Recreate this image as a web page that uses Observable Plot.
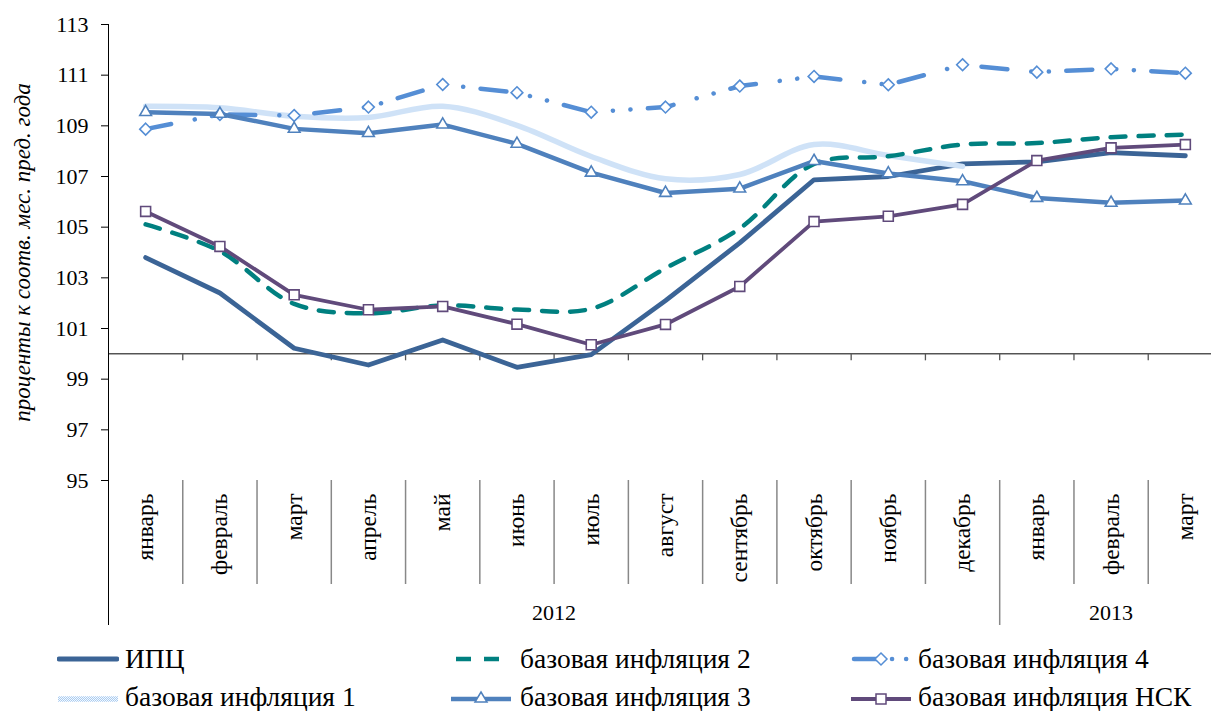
<!DOCTYPE html>
<html><head><meta charset="utf-8">
<script src="https://cdn.jsdelivr.net/npm/d3@7"></script>
<script src="https://cdn.jsdelivr.net/npm/@observablehq/plot@0.6"></script>
<style>
html,body{margin:0;padding:0;background:#fff;overflow:hidden;width:1211px;height:711px}
#wrap{position:relative;width:1211px;height:711px}
#legend{position:absolute;left:0;top:632px;width:1211px;height:79px;font-family:"Liberation Serif","Times New Roman",Times,"DejaVu Serif",serif;font-size:27.5px;color:#000}
.item{position:absolute;display:flex;align-items:center;height:30px;white-space:nowrap;line-height:30px}
.item svg{display:block;flex:none}
</style></head><body><div id="wrap"><div id="chart"></div><div id="legend"></div></div>
<script>
const months = ["январь","февраль","март","апрель","май","июнь","июль","август","сентябрь","октябрь","ноябрь","декабрь","январь","февраль","март"];
const years = ["2012","2013"];
const yearMonthCounts = [12, 3];
const yTicks = [95,97,99,101,103,105,107,109,111,113];
const yTitle = "проценты к соотв. мес. пред. года";

const cpi   = [103.80,102.40,100.22,99.56,100.55,99.47,99.97,102.10,104.38,106.87,107.00,107.50,107.58,107.94,107.82];
const core1 = [109.77,109.71,109.38,109.33,109.77,109.02,107.79,106.91,107.08,108.26,107.83,107.40,null,null,null];
const core2 = [105.11,104.05,101.97,101.60,101.91,101.75,101.78,103.38,104.95,107.50,107.80,108.26,108.32,108.55,108.65];
const core3 = [109.54,109.47,108.88,108.71,109.05,108.29,107.15,106.35,106.52,107.61,107.12,106.81,106.15,105.96,106.05];
const core4 = [108.87,109.45,109.41,109.74,110.63,110.31,109.54,109.74,110.57,110.95,110.62,111.41,111.12,111.25,111.08];
const nsk   = [105.62,104.24,102.33,101.74,101.87,101.17,100.36,101.16,102.66,105.22,105.43,105.90,107.63,108.13,108.26];

const labels = {cpi:"ИПЦ", core1:"базовая инфляция 1", core2:"базовая инфляция 2", core3:"базовая инфляция 3", core4:"базовая инфляция 4", nsk:"базовая инфляция НСК"};

const C = {cpi:"#3b6496", core1:"#9fc3ec", core2:"#008080", core3:"#4f81bd", core4:"#558ed5", nsk:"#604a7b"};
const dash2 = "15,13";
const dash4 = "26,24,0.1,17.5,0.1,17.4";

const X = (d,i) => i;
const Y = d => d;

const bounds = months.slice(0,-1).map((_, i) => i + 0.5);
let acc = 0;
const yearInfo = years.map((y, k) => { const start = acc; acc += yearMonthCounts[k]; return {label: y, start, end: acc}; });
const yearBounds = yearInfo.slice(0,-1).map(d => d.end - 0.5);
const monthBounds = bounds.filter(b => !yearBounds.includes(b));

const font = '"Liberation Serif", "Times New Roman", Times, "DejaVu Serif", serif';

const chart = Plot.plot({
  width: 1211,
  height: 632,
  marginLeft: 108, marginRight: 0, marginTop: 24, marginBottom: 152,
  style: {fontFamily: font, fontSize: "22px", background: "white", color: "black"},
  x: {type: "linear", domain: [-0.5, 14.5], range: [108, 1222], axis: null},
  y: {domain: [95, 113], range: [480, 24], axis: null},
  marks: [
    Plot.ruleX([-0.5], {x: d => d, y1: () => 113, y2: () => 95, insetBottom: -145, stroke: "#000", strokeWidth: 1}),
    Plot.ruleY(yTicks, {y: Y, x1: () => -0.5, x2: () => -0.5, insetLeft: -7, stroke: "#000", strokeWidth: 1}),
    Plot.text(yTicks, {x: () => -0.5, y: Y, text: d => String(d), textAnchor: "end", dx: -20, fontSize: 22, fontFamily: font}),
    Plot.text([yTitle], {x: () => -0.5, y: () => 104, dx: -86, rotate: -90, text: d => d, fontStyle: "italic", fontSize: 23, fontFamily: font}),
    Plot.ruleY([100], {y: Y, x1: () => -0.5, x2: () => 14.5, stroke: "#000", strokeWidth: 1}),
    Plot.ruleX(bounds, {x: d => d, y1: () => 100, y2: () => 100, insetBottom: -7, stroke: "#555", strokeWidth: 1.3}),
    Plot.ruleX(monthBounds, {x: d => d, y1: () => 95, y2: () => 95, insetBottom: -104, stroke: "#888", strokeWidth: 1.5}),
    Plot.ruleX(yearBounds, {x: d => d, y1: () => 95, y2: () => 95, insetBottom: -145, stroke: "#888", strokeWidth: 1.5}),
    Plot.text(months, {x: X, y: () => 95, text: d => d, rotate: -90, textAnchor: "end", dy: 13, fontSize: 23.5, fontFamily: font}),
    Plot.text(yearInfo, {x: d => (d.start + d.end - 1) / 2, y: () => 95, text: d => d.label, dy: 132, fontSize: 22, fontFamily: font}),
    Plot.line(cpi, {x: X, y: Y, stroke: C.cpi, strokeWidth: 4.8, strokeLinejoin: "round"}),
    Plot.line(core1, {x: X, y: Y, stroke: C.core1, strokeWidth: 5.5, curve: "catmull-rom"}),
    Plot.line(core2, {x: X, y: Y, stroke: C.core2, strokeWidth: 4.5, strokeDasharray: dash2, curve: "catmull-rom"}),
    Plot.line(core4, {x: X, y: Y, stroke: C.core4, strokeWidth: 4.5, strokeDasharray: dash4, strokeLinecap: "round"}),
    Plot.dot(core4, {x: X, y: Y, symbol: "diamond2", r: 5.3, fill: "white", stroke: C.core4, strokeWidth: 1.6}),
    Plot.line(core3, {x: X, y: Y, stroke: C.core3, strokeWidth: 4.5, strokeLinejoin: "round"}),
    Plot.dot(core3, {x: X, y: Y, symbol: "triangle2", r: 5.6, fill: "white", stroke: C.core3, strokeWidth: 1.6}),
    Plot.line(nsk, {x: X, y: Y, stroke: C.nsk, strokeWidth: 3.8, strokeLinejoin: "round"}),
    Plot.dot(nsk, {x: X, y: Y, symbol: "square", r: 5.6, fill: "white", stroke: C.nsk, strokeWidth: 1.6})
  ]
});

// stippled pattern for "базовая инфляция 1"
const NS = "http://www.w3.org/2000/svg";
const defs = document.createElementNS(NS, "defs");
defs.innerHTML = `<pattern id="stip" width="2" height="2" patternUnits="userSpaceOnUse"><rect width="2" height="2" fill="#f4f8fd"/><rect width="1" height="1" fill="#a9ccf1"/><rect x="1" y="1" width="1" height="1" fill="#a9ccf1"/></pattern>`;
chart.insertBefore(defs, chart.firstChild);
chart.querySelectorAll(`[stroke="${C.core1}"]`).forEach(el => {
  el.setAttribute("stroke", "url(#stip)");
  el.querySelectorAll("path").forEach(p => p.setAttribute("stroke", "url(#stip)"));
});
document.getElementById("chart").appendChild(chart);

const legendItems = [
  {key:"cpi", col:0, row:0}, {key:"core2", col:1, row:0}, {key:"core4", col:2, row:0},
  {key:"core1", col:0, row:1}, {key:"core3", col:1, row:1}, {key:"nsk", col:2, row:1}
];
const colSwatch = [57, 450, 850];
const colText = [125, 520, 918];
const rowCenter = [27, 65];

function swatch(key) {
  const w = 62, h = 30, cy = 15, cx = 31;
  let s = `<svg width="${w}" height="${h}" viewBox="0 0 ${w} ${h}">`;
  if (key === "cpi") s += `<line x1="2" y1="${cy}" x2="${w-2}" y2="${cy}" stroke="${C.cpi}" stroke-width="4.8" stroke-linecap="round"/>`;
  if (key === "core1") s += `<line x1="1" y1="${cy+2}" x2="${w-1}" y2="${cy+2}" stroke="url(#stip)" stroke-width="5.5"/>`;
  if (key === "core2") s += `<line x1="6" y1="${cy}" x2="${w}" y2="${cy}" stroke="${C.core2}" stroke-width="4.5" stroke-dasharray="15,13"/>`;
  if (key === "core4") s += `<line x1="4" y1="${cy}" x2="${w}" y2="${cy}" stroke="${C.core4}" stroke-width="4.5" stroke-dasharray="24,14,0.1,14,0.1,40" stroke-linecap="round"/><polygon points="${cx},${cy-6} ${cx+6},${cy} ${cx},${cy+6} ${cx-6},${cy}" fill="#fff" stroke="${C.core4}" stroke-width="1.5"/>`;
  if (key === "core3") s += `<line x1="1" y1="${cy+2}" x2="${w-1}" y2="${cy+2}" stroke="${C.core3}" stroke-width="4.5"/><polygon points="${cx},${cy-5} ${cx+6},${cy+5} ${cx-6},${cy+5}" fill="#fff" stroke="${C.core3}" stroke-width="1.5"/>`;
  if (key === "nsk") s += `<line x1="1" y1="${cy+2}" x2="${w-1}" y2="${cy+2}" stroke="${C.nsk}" stroke-width="3.8"/><rect x="${cx-5}" y="${cy-3}" width="10" height="10" fill="#fff" stroke="${C.nsk}" stroke-width="1.5"/>`;
  return s + `</svg>`;
}
const legend = document.getElementById("legend");
for (const it of legendItems) {
  const div = document.createElement("div");
  div.className = "item";
  div.style.left = colSwatch[it.col] + "px";
  div.style.top = (rowCenter[it.row] - 15) + "px";
  const gap = colText[it.col] - colSwatch[it.col] - 62;
  div.innerHTML = swatch(it.key) + `<span style="margin-left:${gap}px">${labels[it.key]}</span>`;
  legend.appendChild(div);
}
</script></body></html>
